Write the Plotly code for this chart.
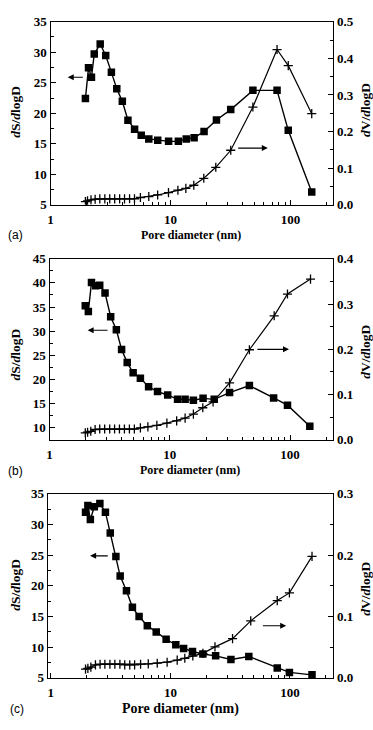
import numpy as np
import plotly.graph_objects as go

# ---------------- data ----------------
# Panel (a)
Da_S = [1.95, 2.07, 2.19, 2.31, 2.59, 2.88, 3.21, 3.56, 3.96, 4.41, 5.01, 5.69, 6.58, 7.81, 9.62,
        11.6, 13.5, 15.7, 19.0, 24.1, 31.7, 48.5, 77.1, 95.6, 150]
Sa = [22.4, 27.45, 25.9, 29.7, 31.35, 29.45, 26.7, 24.0, 21.95, 18.85, 17.4, 16.4, 15.8, 15.6, 15.4,
      15.4, 15.8, 16.0, 17.0, 18.9, 20.6, 23.75, 23.75, 17.2, 7.1]
Da_V = [1.95, 2.03, 2.17, 2.35, 2.57, 2.83, 3.11, 3.42, 3.76, 4.13, 4.55, 5.0, 5.6, 6.58, 7.8, 9.6,
        11.5, 13.4, 15.6, 18.9, 23.8, 31.7, 48.5, 77.1, 95.6, 150]
Va = [0.009, 0.011, 0.0136, 0.0154, 0.0163, 0.0163, 0.0163, 0.0163, 0.0163, 0.0163, 0.0165, 0.0167,
      0.020, 0.0226, 0.027, 0.0335, 0.040, 0.045, 0.0535, 0.0725, 0.1025, 0.149, 0.267, 0.424, 0.380, 0.249]

# Panel (b)
Db_S = [1.98, 2.10, 2.23, 2.42, 2.61, 2.89, 3.22, 3.59, 3.97, 4.42, 4.95, 5.69, 6.66, 7.9, 9.6,
        11.6, 13.4, 15.7, 18.9, 23.4, 31.4, 45.9, 73, 95.2, 146]
Sb = [35.25, 34.1, 40.1, 39.4, 39.5, 37.9, 33.0, 30.3, 26.2, 23.5, 21.4, 20.25, 18.5, 17.5, 16.8,
      15.9, 15.9, 15.7, 16.1, 15.9, 17.3, 18.75, 16.2, 14.7, 10.35]
Db_V = [1.98, 2.07, 2.2, 2.39, 2.61, 2.87, 3.16, 3.47, 3.81, 4.19, 4.61, 5.07, 5.69, 6.57, 7.8, 9.45,
        11.4, 13.4, 15.7, 18.8, 22.9, 31.4, 45.9, 73.8, 95.2, 148]
Vb = [0.0157, 0.017, 0.019, 0.023, 0.024, 0.024, 0.024, 0.024, 0.024, 0.024, 0.024, 0.024, 0.0265,
      0.0287, 0.032, 0.037, 0.042, 0.048, 0.057, 0.071, 0.084, 0.126, 0.199, 0.274, 0.322, 0.355]

# Panel (c)
Dc_S = [1.95, 2.04, 2.14, 2.31, 2.57, 2.86, 3.14, 3.50, 3.80, 4.29, 4.81, 5.47, 6.41, 7.61, 9.21,
        11.1, 12.9, 15.3, 18.7, 23.9, 32.1, 45.3, 78.3, 99, 153]
Sc = [32.0, 33.1, 30.8, 32.9, 33.4, 32.0, 28.6, 24.8, 21.6, 19.2, 16.5, 15.0, 13.5, 12.5, 11.3,
      10.4, 9.8, 9.3, 8.9, 8.6, 8.0, 8.5, 6.6, 5.9, 5.5]
Dc_V = [1.95, 2.04, 2.16, 2.36, 2.58, 2.83, 3.12, 3.43, 3.78, 4.15, 4.57, 5.02, 5.63, 6.53, 7.76, 9.39,
        11.4, 13.2, 15.4, 18.7, 23.6, 33.1, 47, 78.3, 99, 153]
Vc = [0.0144, 0.0155, 0.0176, 0.0213, 0.0224, 0.0224, 0.0224, 0.0224, 0.0224, 0.0213, 0.0213, 0.0213,
      0.0224, 0.0229, 0.024, 0.0256, 0.029, 0.032, 0.0357, 0.040, 0.0506, 0.064, 0.093, 0.126, 0.1385, 0.198]

x_tickvals = [1, 10, 100]
x_ticktext = ["1", "10", "100"]
x_minorvals = [2, 3, 4, 5, 6, 7, 8, 9, 20, 30, 40, 50, 60, 70, 80, 90, 200]
panel_labels = ["(a)", "(b)", "(c)"]
x_title = "Pore diameter (nm)"
left_title = "<i>d</i>S/<i>d</i>logD"
right_title = "<i>d</i>V/<i>d</i>logD"

# ---------------- figure ----------------
W, H = 373, 730
FONT = "'Times New Roman', 'Liberation Serif', serif"
tickfont = dict(family=FONT, size=13, color="black", weight="bold")

fig = go.Figure()

panels = [
    dict(DS=Da_S, S=Sa, DV=Da_V, V=Va, xa="x", yl="y", yr="y2"),
    dict(DS=Db_S, S=Sb, DV=Db_V, V=Vb, xa="x2", yl="y3", yr="y4"),
    dict(DS=Dc_S, S=Sc, DV=Dc_V, V=Vc, xa="x3", yl="y5", yr="y6"),
]
for p in panels:
    fig.add_trace(go.Scatter(x=p["DS"], y=p["S"], xaxis=p["xa"], yaxis=p["yl"], mode="lines+markers",
                             line=dict(color="black", width=1.4),
                             marker=dict(symbol="square", size=7.5, color="black"), showlegend=False))
    fig.add_trace(go.Scatter(x=p["DV"], y=p["V"], xaxis=p["xa"], yaxis=p["yr"], mode="lines+markers",
                             line=dict(color="black", width=1.2),
                             marker=dict(symbol="cross-thin", size=6.5, line=dict(color="black", width=1.3)),
                             showlegend=False))

# geometry (pixels)
geo = [
    dict(x0=48, x1=333, y0=15, y1=202, xr=[0, 2.356]),
    dict(x0=47, x1=333, y0=257, y1=442, xr=[0, 2.36]),
    dict(x0=45, x1=333, y0=497, y1=685, xr=[-0.027, 2.363]),
]
yl_ranges = [[5, 35], [7.5, 45], [5, 35]]
yl_ticks = [list(range(5, 36, 5)), list(range(10, 46, 5)), list(range(5, 36, 5))]
yr_ranges = [[0, 0.5], [0, 0.4], [0, 0.3]]

xnames = ["xaxis", "xaxis2", "xaxis3"]
ylnames = ["yaxis", "yaxis3", "yaxis5"]
yrnames = ["yaxis2", "yaxis4", "yaxis6"]
ylref = ["y", "y3", "y5"]

for i, g in enumerate(geo):
    xd = [g["x0"] / W, g["x1"] / W]
    yd = [1 - g["y1"] / H, 1 - g["y0"] / H]
    fig.layout[xnames[i]] = dict(
        domain=xd, anchor=ylref[i], type="log", range=g["xr"],
        tickmode="array", tickvals=x_tickvals, ticktext=x_ticktext,
        ticks="inside", ticklen=5, tickwidth=1, tickcolor="black",
        minor=dict(tickmode="array", tickvals=x_minorvals, ticks="inside", ticklen=3,
                   tickwidth=1, tickcolor="black", showgrid=False),
        showline=True, linecolor="black", linewidth=1.3, mirror=True,
        showgrid=False, zeroline=False, tickfont=tickfont, ticklabelstandoff=2,
    )
    lo, hi = yl_ranges[i]
    fig.layout[ylnames[i]] = dict(
        domain=yd, anchor=xnames[i].replace("axis", ""), range=[lo, hi],
        tickmode="array", tickvals=yl_ticks[i],
        ticks="inside", ticklen=5, tickwidth=1, tickcolor="black",
        minor=dict(tickmode="linear", tick0=2.5, dtick=2.5, ticks="inside", ticklen=3,
                   tickwidth=1, tickcolor="black", showgrid=False),
        showline=True, linecolor="black", linewidth=1.3,
        showgrid=False, zeroline=False, tickfont=tickfont,
    )
    rlo, rhi = yr_ranges[i]
    fig.layout[yrnames[i]] = dict(
        overlaying=ylref[i], side="right", anchor=xnames[i].replace("axis", ""), range=[rlo, rhi],
        tickmode="linear", tick0=0, dtick=0.1, tickformat=".1f",
        ticks="inside", ticklen=5, tickwidth=1, tickcolor="black",
        minor=dict(tickmode="linear", tick0=0, dtick=0.05, ticks="inside", ticklen=3,
                   tickwidth=1, tickcolor="black", showgrid=False),
        showline=True, linecolor="black", linewidth=1.3,
        showgrid=False, zeroline=False, tickfont=tickfont,
    )

ann = []
titlefont = dict(family=FONT, size=13.5, color="black", weight="bold")
xt_pos = [(190, 233, 12), (189, 473, 12), (179, 717, 14)]
lab_pos = [(13, 233), (13, 474), (14, 717)]
lt_pos = [(13, 107), (13, 355), (13, 590)]
rt_pos = [(366, 105), (366, 352), (366, 594)]
for i in range(3):
    x, y, fs = xt_pos[i]
    ann.append(dict(x=x / W, y=1 - y / H, xref="paper", yref="paper", text=x_title, showarrow=False,
                    font=dict(family=FONT, size=fs, color="black", weight="bold"),
                    xanchor="center", yanchor="middle"))
    x, y = lab_pos[i]
    ann.append(dict(x=x / W, y=1 - y / H, xref="paper", yref="paper", text=panel_labels[i], showarrow=False,
                    font=dict(family="Liberation Sans", size=12, color="black"),
                    xanchor="center", yanchor="middle"))
    x, y = lt_pos[i]
    ann.append(dict(x=x / W, y=1 - y / H, xref="paper", yref="paper", text=left_title, showarrow=False,
                    textangle=-90, font=titlefont, xanchor="center", yanchor="middle"))
    x, y = rt_pos[i]
    ann.append(dict(x=x / W, y=1 - y / H, xref="paper", yref="paper", text=right_title, showarrow=False,
                    textangle=-90, font=titlefont, xanchor="center", yanchor="middle"))

# arrows: (xref, yref, tail x, head x, y)
arrows = [
    ("x", "y", 1.91, 1.39, 25.9),
    ("x", "y2", 35.5, 64.6, 0.155),
    ("x2", "y3", 3.12, 2.07, 30.2),
    ("x2", "y4", 52, 98, 0.2),
    ("x3", "y5", 3.08, 2.13, 24.9),
    ("x3", "y6", 57.7, 93, 0.085),
]
for xr, yr, tx, hx, yv in arrows:
    ann.append(dict(x=np.log10(hx), y=yv, ax=np.log10(tx), ay=yv, xref=xr, yref=yr, axref=xr, ayref=yr,
                    showarrow=True, arrowhead=2, arrowsize=1, arrowwidth=1.2, arrowcolor="black", text=""))

fig.update_layout(
    width=W, height=H, margin=dict(l=0, r=0, t=0, b=0),
    paper_bgcolor="white", plot_bgcolor="white", annotations=ann,
)

fig.write_html("out.html")
